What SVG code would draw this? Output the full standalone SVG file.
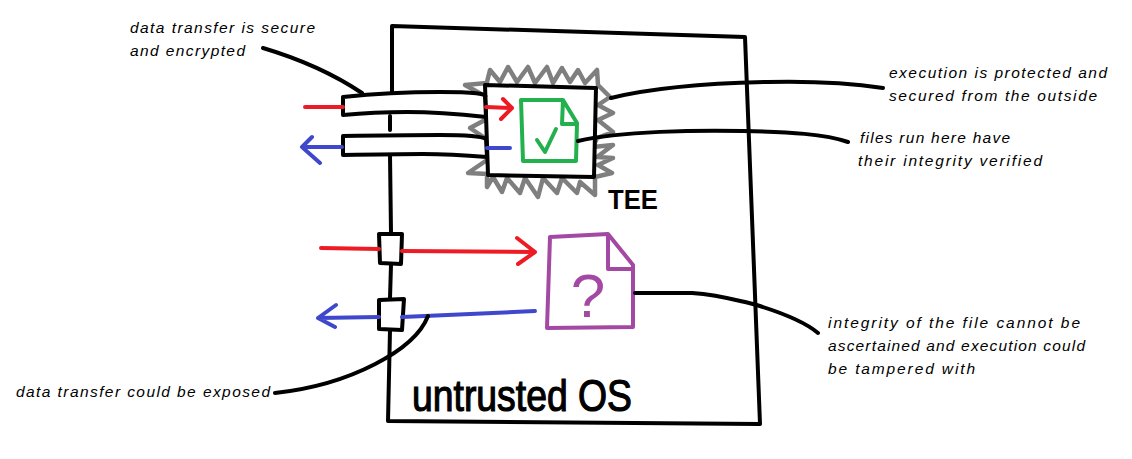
<svg xmlns="http://www.w3.org/2000/svg" width="1132" height="459" viewBox="0 0 1132 459">
<defs><style>
.s{fill:none;stroke-width:4;stroke-linecap:round;stroke-linejoin:round}
.k{stroke:#000}.r{stroke:#ed1c24}.b{stroke:#3f48cc}.g{stroke:#7f7f7f;stroke-width:4.5}.gr{stroke:#22b14c;stroke-width:4}.p{stroke:#a349a4;stroke-width:4}
.w{fill:#fff}
text{font-family:"Liberation Sans",Arial,sans-serif;fill:#000}
.t{font-size:15.5px;font-style:italic}
</style></defs>
<rect width="1132" height="459" fill="#fff"/>
<g id="untrusted-os">
<path class="s k" d="M392 96V26L745 37L760 424L388 421L390 330M390 298L391 265M391 233L390 155M390 130V116M391 96"/>
<text x="412" y="411" font-size="44" textLength="220" lengthAdjust="spacingAndGlyphs" stroke="#000" stroke-width="1.2">untrusted OS</text>
</g>
<g id="tee">
<path class="s g" d="M487 82L490 70L500 82L508 67L517 82L528 67L535 83L547 67L553 83L562 68L570 82L578 70L585 83L597 70L598 85L610 97L598 105L613 113L598 120L613 132L597 138L593 147L613 145L597 157L613 158L598 165L612 173L595 177L595 195L580 182L577 193L562 178L557 193L543 178L538 197L525 178L520 193L507 178L502 192L493 177L487 187V177"/>
<path class="s g" d="M487 160L468 173L488 174M485 138L470 128L485 120M483 95L465 85L487 83"/>
<path class="s k w" d="M485 85L596 88L594 177L488 175Z"/>
<text x="608" y="209" font-size="27" font-weight="bold" textLength="50" lengthAdjust="spacingAndGlyphs">TEE</text>
</g>
<g id="verified-file">
<path class="s gr" d="M521 100H563L577 123L576 161L523 161ZM563 100L562 124H577M537 140L545 152L556 129"/>
</g>
<g id="unknown-file">
<path class="s p" d="M550 237L608 234L633 265V327L547 328ZM608 234V269H633"/>
<text x="588" y="317" font-size="62" text-anchor="middle" style="fill:#a349a4">?</text>
</g>
<g id="secure-channel-in">
<path class="s k w" d="M343 97Q390 92 440 92T485 97L486 117Q440 112 407 112T343 115Z"/>
</g>
<g id="secure-channel-out">
<path class="s k w" d="M343 136Q400 135 440 135T486 139L487 157Q450 154 423 154T343 155Z"/>
</g>
<g id="port-in">
<path class="s k w" d="M379 234H402L401 264L380 263Z"/>
</g>
<g id="port-out">
<path class="s k w" d="M379 300L404 299L402 330L379 329Z"/>
</g>
<g id="connectors">
<path class="s r" d="M305 107H343M486 107L512 108M503 99L512 108L501 119M321 248L379 249M402 251L535 252M517 238L535 252L518 264"/>
<path class="s b" d="M342 147H302M312 137L302 147L320 163M487 148H510M535 311L402 317M379 317L318 318M336 305L318 318L335 327"/>
<path class="s k" d="M263 48Q320 65 362 93M611 98C660 86 720 83 767 82C810 81 850 83 883 88M578 141C620 131 700 130 743 131C790 132 825 134 848 142M635 293C660 293 680 293 692 293C720 295 735 300 753 304C780 312 805 322 818 333M428 316C415 350 350 385 275 393"/>
</g>
<g id="labels">
<text class="t" x="130" y="33" textLength="185">data transfer is secure</text>
<text class="t" x="130" y="56" textLength="115">and encrypted</text>
<text class="t" x="889" y="78" textLength="218">execution is protected and</text>
<text class="t" x="889" y="101" textLength="208">secured from the outside</text>
<text class="t" x="860" y="143" textLength="150">files run here have</text>
<text class="t" x="858" y="166" textLength="184">their integrity verified</text>
<text class="t" x="828" y="328" textLength="252">integrity of the file cannot be</text>
<text class="t" x="828" y="351" textLength="257">ascertained and execution could</text>
<text class="t" x="828" y="374" textLength="147">be tampered with</text>
<text class="t" x="16" y="397" textLength="254">data transfer could be exposed</text>
</g>
</svg>
